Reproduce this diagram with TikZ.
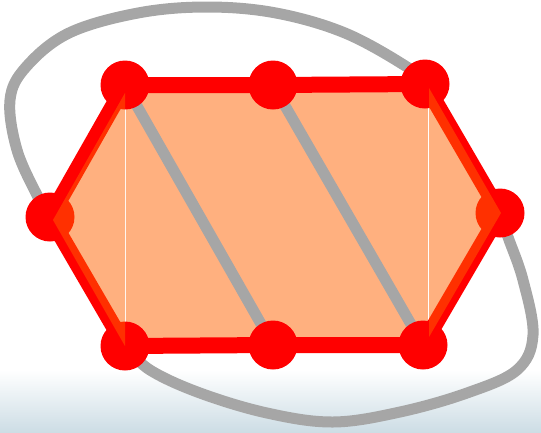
\documentclass[tikz,border=0pt]{standalone}
\usetikzlibrary{shadings}

\definecolor{hexred}{RGB}{255,0,0}
\definecolor{hexfill}{RGB}{255,97,0}
\definecolor{loopgray}{RGB}{166,166,166}
\definecolor{floorblue}{RGB}{205,221,229}

\pgfdeclarelayer{bg}
\pgfdeclarelayer{front}
\pgfsetlayers{bg,main,front}

\begin{document}
\begin{tikzpicture}[
  x=1pt, y=-1pt,
  vertex/.style={circle, fill=hexred, inner sep=0pt, minimum size=49pt},
  rim/.style={hexred, line width=16pt, line join=round},
  chord/.style={loopgray, line width=11pt},
  loopline/.style={loopgray, line width=11pt, line cap=round},
  tint/.style={fill=hexfill, fill opacity=0.5},
]

% ── Canvas ────────────────────────────────────────────────────────────────────
\useasboundingbox (0,0) rectangle (541,432);

% ── Vertices (pixel grid, y downwards) ────────────────────────────────────────
\node[vertex] (tl) at (125,85)  {};
\node[vertex] (tm) at (273,85)  {};
\node[vertex] (tr) at (425,84)  {};
\node[vertex] (r)  at (500,213) {};
\node[vertex] (br) at (423,345) {};
\node[vertex] (bm) at (273,345) {};
\node[vertex] (bl) at (125,346) {};
\node[vertex] (l)  at (50,217)  {};

\begin{pgfonlayer}{bg}
  % floor shading
  \shade[top color=white, middle color=white!75!floorblue, bottom color=floorblue]
    (0,370) rectangle (541,432);

  % middle band of the face
  \fill[tint] (125.8,85) rectangle (428.2,345);

  % outer loop (its straight parts run under the rim)
  \draw[loopline] plot[smooth, tension=0.6] coordinates {(tr.center) (407,67) (345,33)
    (276,13) (207,7) (138,13) (69,33) (26,67) (10,100) (17,150) (38,197) (l.center)};
  \draw[loopline] plot[smooth, tension=0.6] coordinates {(bl.center) (150,370) (200,393)
    (267,413) (333,422) (400,412) (467,393) (517,370) (533,335) (523,280) (508,237) (r.center)};

  % chords
  \draw[chord] (tl.center) -- (bm.center);
  \draw[chord] (tm.center) -- (br.center);

  % rim
  \draw[rim] (tl.center) -- (tm.center) -- (tr.center) -- (r.center)
    -- (br.center) -- (bm.center) -- (bl.center) -- (l.center) -- cycle;
\end{pgfonlayer}

% ── End caps of the face, laid over rim and dots ─────────────────────────────
\begin{pgfonlayer}{front}
  \fill[tint] (125,93) -- (53,220) -- (125,346) -- cycle;
  \fill[tint] (429,88) -- (501,213) -- (429,337) -- cycle;
\end{pgfonlayer}

\end{tikzpicture}
\end{document}
